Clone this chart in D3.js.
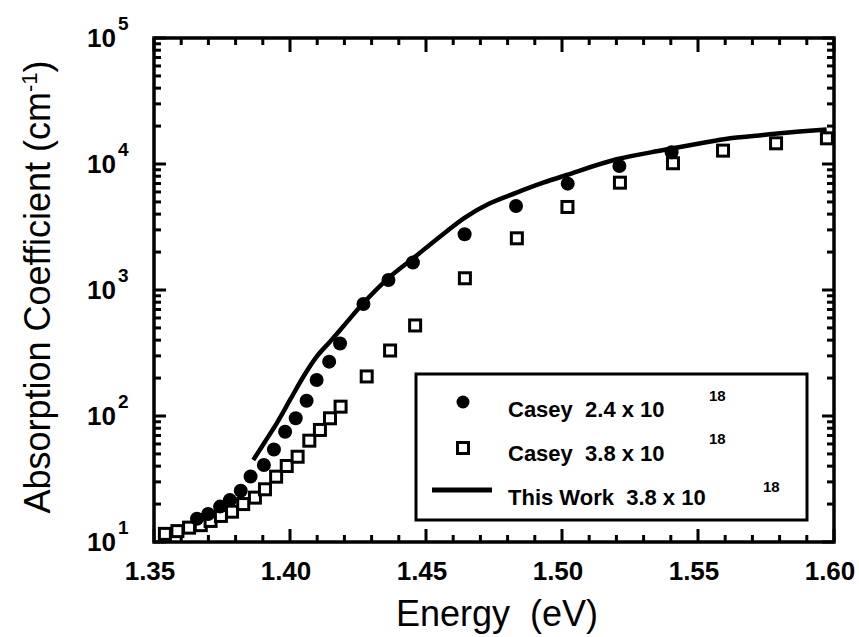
<!DOCTYPE html>
<html>
<head>
<meta charset="utf-8">
<script src="https://cdn.jsdelivr.net/npm/d3@7"></script>
<style>
  body { margin: 0; background: #fff; }
  svg { display: block; }
  text { font-family: "Liberation Sans", Arial, Helvetica, sans-serif; fill: #000; }
</style>
</head>
<body>
<div id="chart"></div>
<script>
// Casey 2.4 x 10^18 (filled circles)
const caseyLowE = [1.3658, 1.3699, 1.3743, 1.3779, 1.3819, 1.3855, 1.3904, 1.3941, 1.3982, 1.4021,
  1.4061, 1.4098, 1.4144, 1.4184, 1.4270, 1.4362, 1.4452, 1.4642, 1.4831, 1.5021, 1.5211, 1.5403];
const caseyLowA = [15.3, 16.7, 19.1, 21.5, 25.5, 33.1, 40.8, 54.2, 75.0, 95.9,
  132, 193, 270, 376, 774, 1199, 1652, 2771, 4645, 6980, 9640, 12410];

// Casey 3.8 x 10^18 (open squares)
const caseyHighE = [1.3540, 1.3586, 1.3629, 1.3672, 1.3708, 1.3746, 1.3787, 1.3828, 1.3871, 1.3908,
  1.3949, 1.3988, 1.4028, 1.4071, 1.4110, 1.4147, 1.4186, 1.4282, 1.4368, 1.4460, 1.4643, 1.4834,
  1.5020, 1.5213, 1.5408, 1.5592, 1.5787, 1.5974];
const caseyHighA = [11.6, 12.2, 13.0, 13.6, 14.7, 16.1, 17.4, 20.0, 22.5, 26.2,
  33.0, 40.1, 47.5, 63.7, 77.5, 95.9, 118.6, 206, 331, 523, 1239, 2572,
  4560, 7110, 10140, 12770, 14600, 15990];

// This Work 3.8 x 10^18 (solid line)
const workE = [1.3865, 1.3908, 1.3951, 1.4000, 1.4049, 1.4098, 1.4147, 1.4196, 1.4269, 1.4361,
  1.4453, 1.4551, 1.4643, 1.4735, 1.4831, 1.4931, 1.5017, 1.5201, 1.5373, 1.5495, 1.5618,
  1.5740, 1.5862, 1.5973];
const workA = [44.8, 62.5, 87.5, 134, 205, 296, 389, 515, 784, 1238,
  1786, 2650, 3760, 4875, 5900, 7100, 8180, 10900, 12900, 14400, 16000,
  17000, 18000, 18800];

const xMajor = [1.35, 1.40, 1.45, 1.50, 1.55, 1.60];
const xLabels = ["1.35", "1.40", "1.45", "1.50", "1.55", "1.60"];
const yMajor = [10, 100, 1000, 10000, 100000];
const yExp = ["1", "2", "3", "4", "5"];

const legendLabels = ["Casey  2.4 x 10", "Casey  3.8 x 10", "This Work  3.8 x 10"];

const width = 859;
const height = 637;
const margin = {top: 38, left: 154, right: 25, bottom: 95};

const svg = d3.select("#chart")
  .append("svg")
    .attr("width", width)
    .attr("height", height);

const x = d3.scaleLinear()
  .domain([1.35, 1.60])
  .range([margin.left, width - margin.right]);

const y = d3.scaleLog()
  .domain([10, 100000])
  .range([height - margin.bottom, margin.top]);

const x0 = x.range()[0], x1 = x.range()[1];
const y0 = y.range()[0], y1 = y.range()[1];

// minor tick values
let xMinor = d3.range(0, 26).map(i => 1.35 + i * 0.01).filter((d, i) => i % 5 !== 0);
let yMinor = [];
yMajor.slice(0, -1).forEach(function(d) {
  for (let k = 2; k < 10; k++) yMinor.push(d * k);
});

// inward ticks on all four sides
function xTicks(vals, yBase, len) {
  svg.append("g").selectAll("line")
    .data(vals)
    .join("line")
    .attr("x1", d => x(d))
    .attr("x2", d => x(d))
    .attr("y1", yBase)
    .attr("y2", yBase + len)
    .attr("stroke", "black")
    .attr("stroke-width", 3);
}
function yTicks(vals, xBase, len) {
  svg.append("g").selectAll("line")
    .data(vals)
    .join("line")
    .attr("y1", d => y(d))
    .attr("y2", d => y(d))
    .attr("x1", xBase)
    .attr("x2", xBase + len)
    .attr("stroke", "black")
    .attr("stroke-width", 3);
}
xTicks(xMajor, y0, -13);
xTicks(xMinor, y0, -7);
xTicks(xMajor, y1, 14);
xTicks(xMinor, y1, 7);
yTicks(yMajor, x0, 12);
yTicks(yMinor, x0, 7);
yTicks(yMajor, x1, -12);
yTicks(yMinor, x1, -7);

// frame
svg.append("rect")
  .attr("x", x0)
  .attr("y", y1)
  .attr("width", x1 - x0)
  .attr("height", y0 - y1)
  .attr("fill", "none")
  .attr("stroke", "#000")
  .attr("stroke-width", 3.5);

// x tick labels
svg.selectAll(".xlab")
  .data(xMajor)
  .join("text")
  .attr("x", d => x(d) - 4)
  .attr("y", y0 + 38)
  .attr("text-anchor", "middle")
  .style("font-size", "26px")
  .style("font-weight", "bold")
  .text((d, i) => xLabels[i]);

// y tick labels 10^n
const ylab = svg.selectAll(".ylab")
  .data(yMajor)
  .join("g");
ylab.append("text")
  .attr("x", x0 - 38)
  .attr("y", d => y(d) + 9)
  .attr("text-anchor", "end")
  .style("font-size", "26px")
  .style("font-weight", "bold")
  .text("10");
ylab.append("text")
  .attr("x", x0 - 36)
  .attr("y", d => y(d) - 8)
  .style("font-size", "19px")
  .style("font-weight", "bold")
  .text((d, i) => yExp[i]);

// axis titles
svg.append("text")
  .attr("x", (x0 + x1) / 2 + 3)
  .attr("y", 626)
  .attr("text-anchor", "middle")
  .style("font-size", "36px")
  .style("white-space", "pre")
  .text("Energy  (eV)");

const yt = svg.append("text")
  .attr("transform", `translate(50,${(y0 + y1) / 2 - 3}) rotate(-90)`)
  .attr("text-anchor", "middle")
  .style("font-size", "36px");
yt.append("tspan").text("Absorption Coefficient (cm");
yt.append("tspan").attr("dy", -13).style("font-size", "22px").text("-1");
yt.append("tspan").attr("dy", 13).text(")");

// data: this work line
const line = d3.line()
  .x(d => x(d[0]))
  .y(d => y(d[1]))
  .curve(d3.curveMonotoneX);

svg.append("path")
  .datum(workE.map((e, i) => [e, workA[i]]))
  .attr("d", line)
  .attr("fill", "none")
  .attr("stroke", "#000")
  .attr("stroke-width", 4.5)
  .attr("stroke-linejoin", "round");

// Casey 3.8 squares
const sq = 11;
svg.append("g")
  .selectAll("rect")
  .data(caseyHighE.map((e, i) => [e, caseyHighA[i]]))
  .join("rect")
  .attr("x", d => x(d[0]) - sq / 2)
  .attr("y", d => y(d[1]) - sq / 2)
  .attr("width", sq)
  .attr("height", sq)
  .attr("fill", "#fff")
  .attr("stroke", "#000")
  .attr("stroke-width", 3);

// Casey 2.4 circles
svg.append("g")
  .selectAll("circle")
  .data(caseyLowE.map((e, i) => [e, caseyLowA[i]]))
  .join("circle")
  .attr("cx", d => x(d[0]))
  .attr("cy", d => y(d[1]))
  .attr("r", 7)
  .attr("fill", "#000");

// legend
const lg = svg.append("g").attr("transform", "translate(416,374)");
lg.append("rect")
  .attr("width", 391)
  .attr("height", 146)
  .attr("fill", "#fff")
  .attr("stroke", "#000")
  .attr("stroke-width", 3);

lg.append("circle")
  .attr("cx", 47)
  .attr("cy", 28)
  .attr("r", 6.5)
  .attr("fill", "#000");
lg.append("rect")
  .attr("x", 47 - sq / 2)
  .attr("y", 74 - sq / 2)
  .attr("width", sq)
  .attr("height", sq)
  .attr("fill", "#fff")
  .attr("stroke", "#000")
  .attr("stroke-width", 3);
lg.append("line")
  .attr("x1", 16)
  .attr("x2", 76)
  .attr("y1", 116)
  .attr("y2", 116)
  .attr("stroke", "#000")
  .attr("stroke-width", 5);

const rowY = [43, 87, 131];
const supX = [293, 293, 347];
const supY = [27, 70, 118];
legendLabels.forEach(function(t, i) {
  lg.append("text")
    .attr("x", 92)
    .attr("y", rowY[i])
    .style("font-size", "22px")
    .style("font-weight", "bold")
    .style("white-space", "pre")
    .text(t);
  lg.append("text")
    .attr("x", supX[i])
    .attr("y", supY[i])
    .style("font-size", "15px")
    .style("font-weight", "bold")
    .text("18");
});
</script>
</body>
</html>
